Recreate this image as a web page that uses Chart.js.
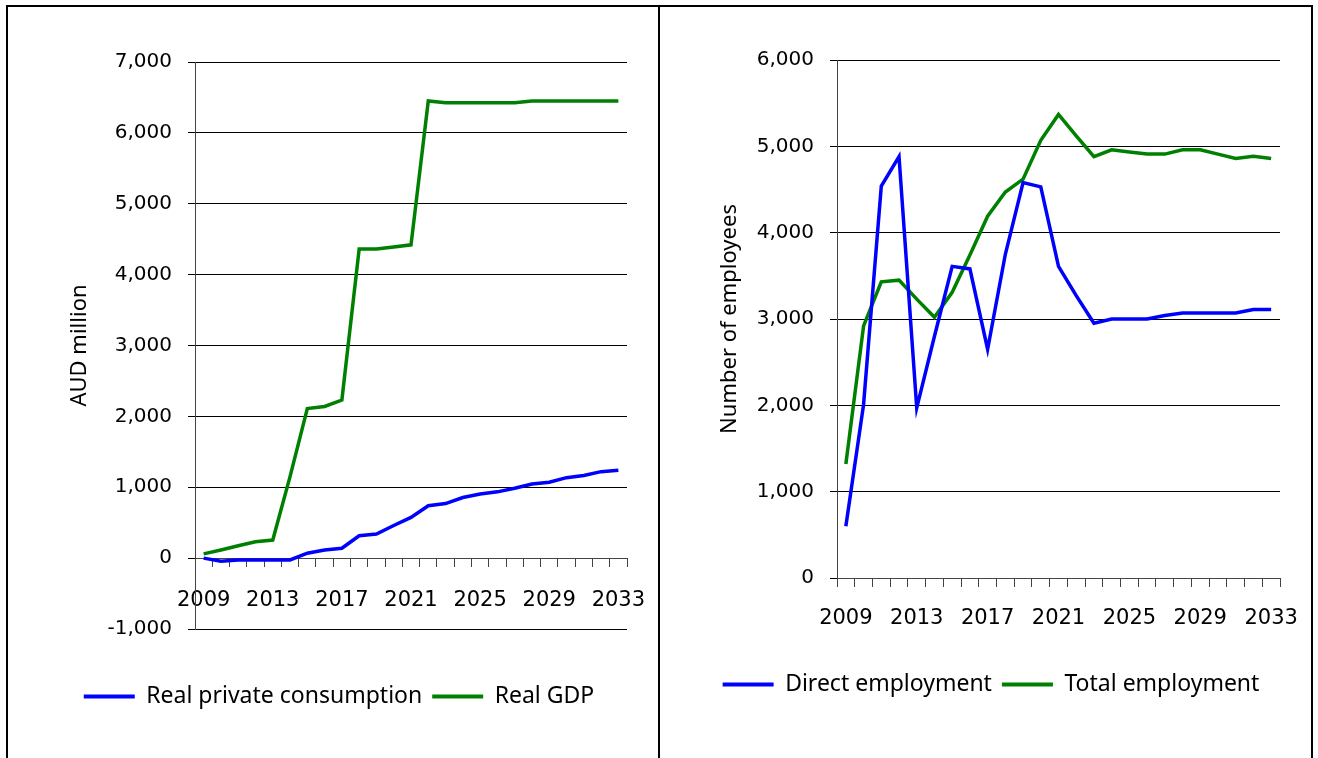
<!DOCTYPE html>
<html lang="en">
  <head>
    <meta charset="UTF-8" />
    <title>GDP and employment impacts</title>
    <script src="https://cdn.jsdelivr.net/npm/chart.js@4.4.1/dist/chart.umd.min.js"></script>
    <style>
      body { margin: 0; background: #fff; width: 1318px; height: 758px; overflow: hidden; position: relative; }
      .rule { position: absolute; background: #000; }
      canvas { position: absolute; }
    </style>
  </head>
  <body>
    <div class="rule" style="left: 6px; top: 5px; width: 1307px; height: 2px"></div>
    <div class="rule" style="left: 6px; top: 5px; width: 2px; height: 753px"></div>
    <div class="rule" style="left: 658px; top: 5px; width: 2px; height: 753px"></div>
    <div class="rule" style="left: 1311px; top: 5px; width: 2px; height: 753px"></div>
    <canvas id="gdpChart" width="648" height="751" style="left: 9px; top: 7px"></canvas>
    <canvas id="jobsChart" width="648" height="751" style="left: 661px; top: 7px"></canvas>
    <script>
      /*** data ***/
      const years = [];
      for (let y = 2009; y <= 2033; y++) years.push(String(y));

      const realPrivateConsumption = [
        0, -45, -25, -25, -25, -25, 70, 115, 140, 315, 340, 460, 575, 740,
        770, 855, 905, 935, 985, 1045, 1070, 1135, 1165, 1220, 1240,
      ];
      const realGDP = [
        60, 115, 175, 230, 255, 1150, 2110, 2140, 2230, 4360, 4360, 4390,
        4420, 6450, 6425, 6425, 6425, 6425, 6425, 6450, 6450, 6450, 6450,
        6450, 6450,
      ];
      const directEmployment = [
        600, 2010, 4540, 4880, 1970, 2800, 3610, 3580, 2650, 3750, 4580, 4530,
        3610, 3270, 2950, 3000, 3000, 3000, 3040, 3070, 3070, 3070, 3070,
        3110, 3110,
      ];
      const totalEmployment = [
        1320, 2920, 3430, 3450, 3230, 3020, 3310, 3740, 4190, 4470, 4620, 5070,
        5370, 5120, 4880, 4960, 4935, 4910, 4910, 4960, 4960, 4910, 4860,
        4885, 4860,
      ];

      const BLUE = "#0000ff";
      const GREEN = "#008000";
      const yTickFont = { family: "DejaVu Sans", size: 20 };
      const xTickFont = { family: "DejaVu Sans", size: 21 };
      const titleFont = { family: "Noto Sans", size: 22 };
      const legendFont = { family: "Noto Sans", size: 23 };

      // legend lines without the outline stroke
      function legendItems(chart) {
        return Chart.defaults.plugins.legend.labels
          .generateLabels(chart)
          .map((item) => ({ ...item, lineWidth: 0 }));
      }

      function series(label, values, color) {
        return {
          label,
          data: values,
          borderColor: color,
          backgroundColor: color,
          borderWidth: 3.5,
          pointRadius: 0,
          tension: 0,
          fill: false,
        };
      }

      function makeChart(id, opts) {
        return new Chart(document.getElementById(id), {
          type: "line",
          data: { labels: years, datasets: opts.datasets },
          options: {
            responsive: false,
            animation: false,
            events: [],
            layout: { padding: opts.padding },
            plugins: {
              tooltip: { enabled: false },
              legend: {
                position: "bottom",
                title: {
                  display: true,
                  text: "",
                  font: { size: 10, lineHeight: 1 },
                  padding: { top: opts.legendGap, bottom: 0 },
                },
                labels: {
                  boxWidth: 51,
                  boxHeight: 4,
                  padding: 10,
                  color: "#000",
                  font: legendFont,
                  generateLabels: legendItems,
                },
              },
            },
            scales: {
              x: {
                type: "category",
                position: { y: opts.yMin < 0 ? 0 : opts.yMin },
                offset: true,
                // keep the end labels from squeezing the plot
                afterFit: (scale) => {
                  scale.paddingLeft = 0;
                  scale.paddingRight = 0;
                },
                grid: {
                  offset: true,
                  drawOnChartArea: false,
                  drawTicks: true,
                  tickLength: 8,
                  color: "#444",
                },
                border: { display: true, color: "#444", width: 1 },
                ticks: {
                  autoSkip: false,
                  maxRotation: 0,
                  padding: opts.xPad,
                  color: "#000",
                  font: xTickFont,
                  callback: (v, i) => (i % 4 === 0 ? years[i] : ""),
                },
              },
              y: {
                min: opts.yMin,
                max: opts.yMax,
                afterFit: (scale) => { scale.width = opts.yWidth; },
                grid: { color: "#000", lineWidth: 1, tickLength: 7 },
                border: { display: true, color: "#444", width: 1 },
                ticks: {
                  stepSize: 1000,
                  padding: 16,
                  color: "#000",
                  font: yTickFont,
                  callback: (v) => v.toLocaleString("en-US"),
                },
                title: {
                  display: true,
                  text: opts.yTitle,
                  color: "#000",
                  font: titleFont,
                  padding: { top: opts.titlePad, bottom: 0 },
                },
              },
            },
          },
        });
      }

      /*** left panel ***/
      makeChart("gdpChart", {
        datasets: [
          series("Real private consumption", realPrivateConsumption, BLUE),
          series("Real GDP", realGDP, GREEN),
        ],
        yMin: -1000,
        yMax: 7000,
        yTitle: "AUD million",
        yWidth: 144,
        titlePad: 16,
        xPad: 22,
        legendGap: 36,
        padding: { left: 42, right: 30, top: 55, bottom: 40 },
      });

      /*** right panel ***/
      makeChart("jobsChart", {
        datasets: [
          series("Direct employment", directEmployment, BLUE),
          series("Total employment", totalEmployment, GREEN),
        ],
        yMin: 0,
        yMax: 6000,
        yTitle: "Number of employees",
        yWidth: 135,
        titlePad: 15,
        xPad: 20,
        legendGap: 75,
        padding: { left: 41, right: 29, top: 53, bottom: 52 },
      });
    </script>
  </body>
</html>
